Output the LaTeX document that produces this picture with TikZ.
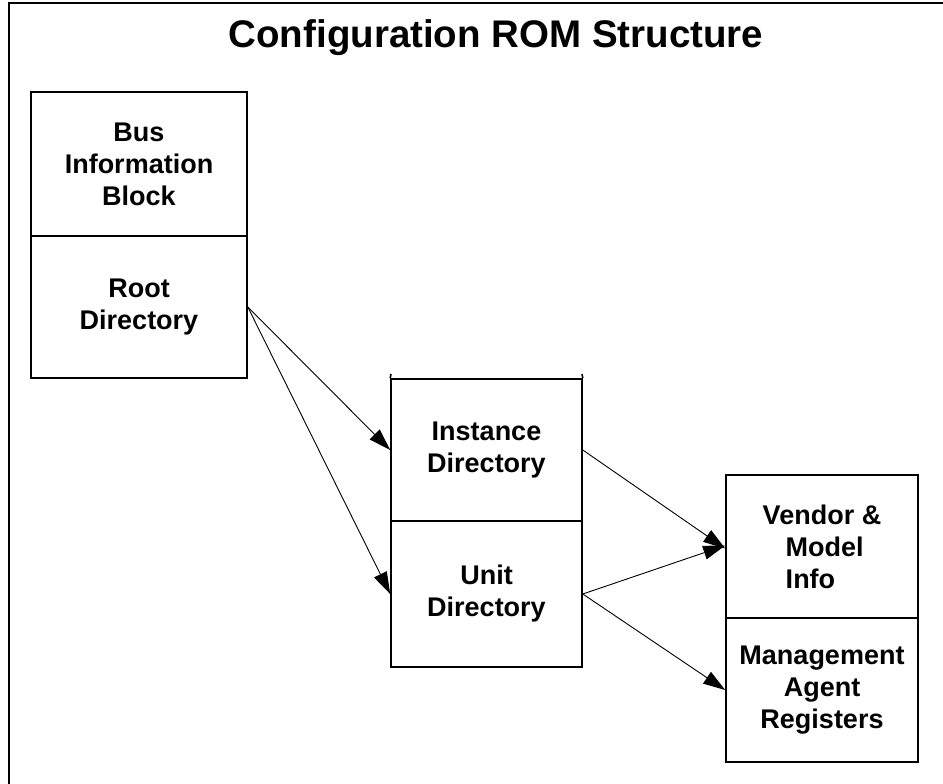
\documentclass[tikz,border=0pt]{standalone}
\usepackage{fontspec}
\setmainfont{Liberation Sans}
\usetikzlibrary{arrows.meta}
\begin{document}
\begin{tikzpicture}[x=1pt,y=-1pt,
  comp/.style={draw=black,line width=1.6pt,rectangle,inner sep=0pt,align=center,
    font=\fontsize{27}{32}\selectfont\bfseries},
  conn/.style={draw=black,line width=0.9pt,-{Triangle[length=22pt,width=14pt]}},
  frame/.style={draw=black,line width=2pt}]
\useasboundingbox (0,0) rectangle (943,784);
\fill[white] (0,0) rectangle (943,784);
% frame (top and left edges visible)
\coordinate (ftr) at (943,3);
\coordinate (ftl) at (9,3);
\coordinate (fbl) at (9,784);
\draw[frame] (ftr) -- (ftl) -- (fbl);
% title
\node[font=\fontsize{38.5}{40}\selectfont\bfseries,anchor=base] (title) at (496,48) {Configuration ROM Structure};
% left stack
\node[comp,minimum width=216pt,minimum height=144pt] (bib) at (139,164) {Bus\\Information\\Block};
\node[comp,minimum width=216pt,minimum height=142pt] (root) at (139,307) {Root\\Directory};
% middle stack
\node[comp,minimum width=191pt,minimum height=142pt] (inst) at (486.5,450) {Instance\\Directory};
\node[comp,minimum width=191pt,minimum height=146pt] (unit) at (486.5,594) {Unit\\Directory};
\coordinate (tl) at (391,374);
\coordinate (tr) at (582,374);
\draw[line width=1.6pt] (tl) -- (inst.north west);
\draw[line width=1.6pt] (tr) -- (inst.north east);
% right stack
\node[comp,minimum width=192pt,minimum height=143pt,align=left] (vend) at (822,546.5) {Vendor \&\\\hspace*{23pt}Model\\\hspace*{23pt}Info};
\node[comp,minimum width=192pt,minimum height=144pt] (mgmt) at (822,690) {Management\\Agent\\Registers};
% connectors
\draw[conn] (root.east) -- (inst.west);
\draw[conn] (root.east) -- (unit.west);
\draw[conn] (inst.east) -- ([yshift=-2pt]vend.west);
\draw[conn] (unit.east) -- ([yshift=1pt]vend.west);
\draw[conn] (unit.east) -- (mgmt.west);
\end{tikzpicture}
\end{document}
